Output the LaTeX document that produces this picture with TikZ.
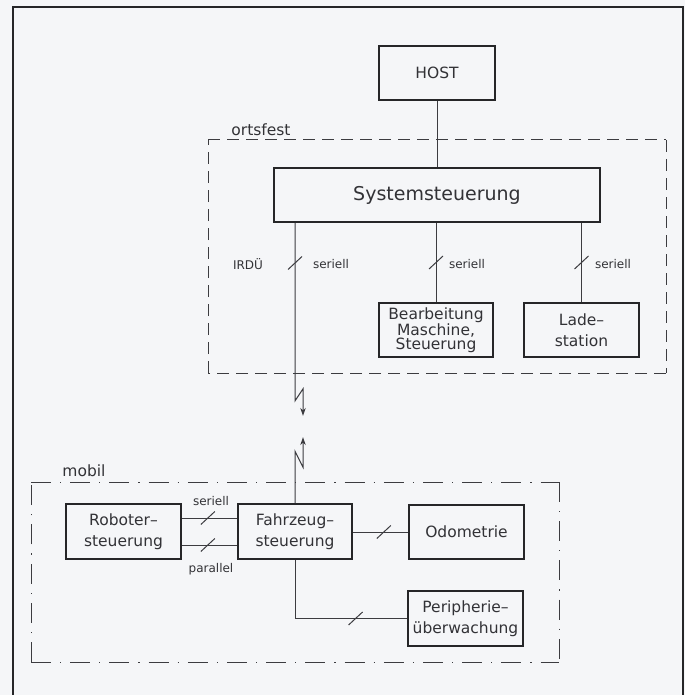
\documentclass[tikz,border=0pt]{standalone}
\usepackage{fontspec}
\setmainfont{DejaVu Sans}
\usetikzlibrary{arrows.meta}
\definecolor{bg}{RGB}{245,246,248}
\definecolor{ink}{RGB}{38,38,40}
\definecolor{txt}{RGB}{50,50,54}
\definecolor{lineink}{RGB}{60,60,64}
\newcommand\tickmark[1]{\draw[tickline] (#1) ++(-7,6.5) -- ++(14,-13);}
\begin{document}
\begin{tikzpicture}[x=1pt,y=-1pt,
  box/.style={draw=ink, line width=1.7pt, inner sep=0pt, align=center, text=txt,
    font=\fontsize{15.5}{21}\selectfont},
  bigtext/.style={font=\fontsize{19}{22}\selectfont},
  lbl/.style={inner sep=0pt, text=txt, font=\fontsize{12}{14}\selectfont},
  grplbl/.style={inner sep=0pt, text=txt, font=\fontsize{15.5}{18}\selectfont},
  conn/.style={draw=lineink, line width=1pt},
  tickline/.style={draw=lineink, line width=1pt},
  ortsline/.style={draw=lineink, line width=1pt, dash pattern=on 12pt off 7pt},
  mobilline/.style={draw=lineink, line width=1pt, dash pattern=on 20pt off 9pt on 1.2pt off 9pt},
  bolt/.style={conn, -{Stealth[length=8pt,width=5.5pt]}}
]
\fill[bg] (0,0) rectangle (685,695);
\useasboundingbox (0,0) rectangle (685,695);
% outer frame
\draw[draw=ink, line width=1.3pt] (13,695) -- (13,7) -- (683,7) -- (683,695);

% ortsfest group
\coordinate (oTL) at (208,140);
\coordinate (oTR) at (666,140);
\coordinate (oBR) at (666,373);
\coordinate (oBL) at (208,373);
\draw[ortsline] (oTL) -- (oTR);
\draw[ortsline] (oTR) -- (oBR);
\draw[ortsline] (oBR) -- (oBL);
\draw[ortsline] (oBL) -- (oTL);
\node[grplbl] (ortsfest) at (261,130) {ortsfest};

% mobil group
\coordinate (mTL) at (31,482);
\coordinate (mTR) at (559,482);
\coordinate (mBR) at (559,662);
\coordinate (mBL) at (31,662);
\draw[mobilline] (mTL) -- (mTR);
\draw[mobilline] (mTR) -- (mBR);
\draw[mobilline] (mBL) -- (mBR);
\draw[mobilline] (mBL) -- (mTL);
\node[grplbl] (mobil) at (84,471) {mobil};

% boxes
\node[box, minimum width=116pt, minimum height=54pt] (host) at (437,73) {HOST};
\node[box, bigtext, minimum width=326pt, minimum height=54pt] (sys) at (437,195) {Systemsteuerung};
\node[box, minimum width=114pt, minimum height=54pt, font=\fontsize{15.5}{14}\selectfont] (bearb) at (436,330) {Bearbeitung\\Maschine,\\Steuerung};
\node[box, minimum width=115pt, minimum height=54pt] (lade) at (581.5,330) {Lade–\\station};
\node[box, minimum width=115pt, minimum height=55pt] (rob) at (123.5,531.5) {Roboter–\\steuerung};
\node[box, minimum width=114pt, minimum height=55pt] (fz) at (295,531.5) {Fahrzeug–\\steuerung};
\node[box, minimum width=115pt, minimum height=54pt] (odo) at (466.5,532) {Odometrie};
\node[box, minimum width=115pt, minimum height=55pt] (per) at (465.5,618.5) {Peripherie–\\überwachung};

% connectors top
\draw[conn] (host) -- (sys);
\draw[conn] (sys.south -| lade.north) -- coordinate (t3) (lade.north);
\draw[conn] (sys.south -| bearb.north) -- coordinate (t2) (bearb.north);
\draw[bolt] (sys.south -| fz.north) -- ++(0,178) -- ++(8,-12) -- ++(0,27);
\draw[bolt] (fz.north) -- ++(0,-52) -- ++(8,16) -- ++(0,-30);
\coordinate (t1) at (295,263);
\tickmark{t1}
\tickmark{t2}
\tickmark{t3}
\node[lbl] (irdu) at (248,264) {IRDÜ};
\node[lbl] (s1) at (331,264) {seriell};
\node[lbl] (s2) at (467,264) {seriell};
\node[lbl] (s3) at (613,264) {seriell};

% connectors mobil
\coordinate (r1) at (rob.east |- 0,518);
\coordinate (r2) at (rob.east |- 0,545);
\draw[conn] (r1) -- coordinate[pos=0.47] (t4) (fz.west |- r1);
\draw[conn] (r2) -- coordinate[pos=0.47] (t5) (fz.west |- r2);
\tickmark{t4}
\tickmark{t5}
\node[lbl] (s4) at (211,501) {seriell};
\node[lbl] (par) at (211,569) {parallel};
\draw[conn] (fz.east |- odo.west) -- coordinate[pos=0.56] (t6) (odo.west);
\tickmark{t6}
\draw[conn] (fz.south) |- coordinate[pos=0.77] (t7) (per.west);
\tickmark{t7}
\end{tikzpicture}
\end{document}
